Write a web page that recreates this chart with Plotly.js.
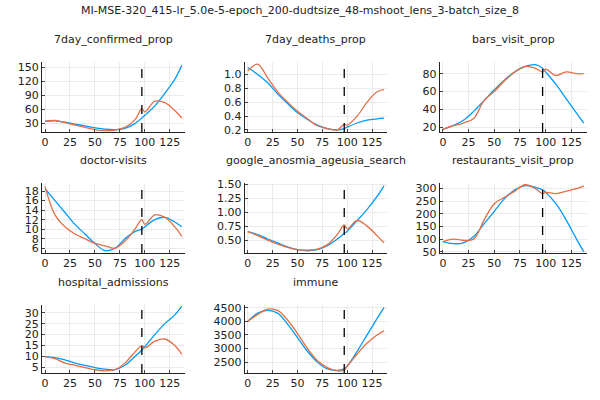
<!DOCTYPE html>
<html><head><script src="https://cdn.plot.ly/plotly-3.0.1.min.js"></script></head>
<body style="margin:0"><div id="plot" style="width:600px;height:400px"></div>
<script>
const days = [0,10,20,30,40,50,60,70,80,90,97,100,110,120,130,137];
const splitDay = 97;

const titles = ["7day_confirmed_prop","7day_deaths_prop","bars_visit_prop","doctor-visits",
  "google_anosmia_ageusia_search","restaurants_visit_prop","hospital_admissions","immune"];

const fitted = [
  [35,36,33,29,25,21,18,17,20,30,42,48,68,95,125,155],
  [1.1,1.0,0.88,0.72,0.58,0.45,0.35,0.27,0.22,0.2,0.22,0.24,0.3,0.34,0.36,0.37],
  [18,22,28,38,50,62,73,82,88,90,86,82,68,52,36,25],
  [18.5,16,13.5,11,9,7,5.5,6,8,9.5,10,10.5,12,12.5,11.5,10.5],
  [0.65,0.6,0.52,0.45,0.38,0.33,0.31,0.33,0.4,0.52,0.62,0.66,0.85,1.05,1.28,1.47],
  [90,82,85,110,160,210,260,295,312,305,295,285,240,175,100,50],
  [10,9.5,8.5,7,6,5,4.3,4,6,10,13,14.5,20,25,29,33],
  [4000,4300,4400,4300,3900,3400,2900,2500,2250,2200,2250,2350,2900,3500,4100,4500]
];
const observed = [
  [35,37,32,27,22,17,15,16,22,38,62,55,78,75,58,42],
  [1.05,1.15,0.95,0.75,0.6,0.47,0.36,0.26,0.22,0.2,0.28,0.27,0.4,0.6,0.75,0.78],
  [18,22,25,30,50,60,72,82,88,86,82,85,78,82,80,80],
  [19,13,10.5,9,8,7,6.5,6,7.5,10,12,11,13,12.5,10.5,8.5],
  [0.65,0.58,0.5,0.43,0.37,0.33,0.32,0.34,0.42,0.6,0.77,0.7,0.85,0.75,0.58,0.45],
  [90,100,95,100,175,240,265,290,315,300,280,285,280,290,300,310],
  [10,9,7,6,5,4,3.5,4,7,12,15,14,17,18,15,11],
  [4000,4250,4450,4400,4050,3550,3000,2550,2300,2180,2200,2350,2800,3200,3500,3650]
];
const yranges = [[12,162],[0.17,1.18],[15,93],[5,19.7],[0.27,1.52],[45,322],[2.5,33.5],[2100,4600]];
const yticks = [[30,60,90,120,150],[0.2,0.4,0.6,0.8,1.0],[20,40,60,80],[6,8,10,12,14,16,18],
  [0.5,0.75,1.0,1.25,1.5],[50,100,150,200,250,300],[5,10,15,20,25,30],[2500,3000,3500,4000,4500]];
const ytext = [null,["0.2","0.4","0.6","0.8","1.0"],null,null,["0.50","0.75","1.00","1.25","1.50"],null,null,null];

const colDom = [[0.07,0.308],[0.408,0.645],[0.733,0.978]];
const rowDom = [[0.67,0.845],[0.3675,0.5425],[0.0675,0.2375]];

const traces = [], layout = {
  width:600, height:400, margin:{l:0,r:0,t:0,b:0}, showlegend:false,
  paper_bgcolor:"white", plot_bgcolor:"white",
  font:{family:"DejaVu Sans", size:11, color:"#222"},
  title:{text:"MI-MSE-320_415-lr_5.0e-5-epoch_200-dudtsize_48-mshoot_lens_3-batch_size_8",
    font:{size:11}, x:0.5, y:0.985},
  annotations:[], shapes:[]
};

titles.forEach((t,i)=>{
  const n = i+1, r = Math.floor(i/3), c = i%3;
  const xa = "x"+(n>1?n:""), ya = "y"+(n>1?n:"");
  traces.push({x:days,y:fitted[i],xaxis:xa,yaxis:ya,mode:"lines",line:{color:"#009AFA",width:1.3,shape:"spline"}});
  traces.push({x:days,y:observed[i],xaxis:xa,yaxis:ya,mode:"lines",line:{color:"#E36F47",width:1.3,shape:"spline"}});
  const ax = {showline:true,linecolor:"#222",mirror:false,gridcolor:"#ebebeb",zeroline:false,ticks:"inside",ticklen:3,tickfont:{size:11}};
  layout["xaxis"+(n>1?n:"")] = Object.assign({},ax,{domain:colDom[c],anchor:ya,range:[-3,140],tickvals:[0,25,50,75,100,125]});
  layout["yaxis"+(n>1?n:"")] = Object.assign({},ax,{domain:rowDom[r],anchor:xa,range:yranges[i],tickvals:yticks[i],
    ticktext:ytext[i]||yticks[i].map(String)});
  layout.annotations.push({text:t,xref:"paper",yref:"paper",x:(colDom[c][0]+colDom[c][1])/2,y:rowDom[r][1]+0.035,
    showarrow:false,font:{size:11},xanchor:"center",yanchor:"bottom"});
  layout.shapes.push({type:"line",xref:xa,yref:ya+" domain",x0:splitDay,x1:splitDay,y0:0,y1:1,line:{color:"black",width:1.3,dash:"dash"}});
});

Plotly.newPlot("plot",traces,layout,{displayModeBar:false});
</script></body></html>
